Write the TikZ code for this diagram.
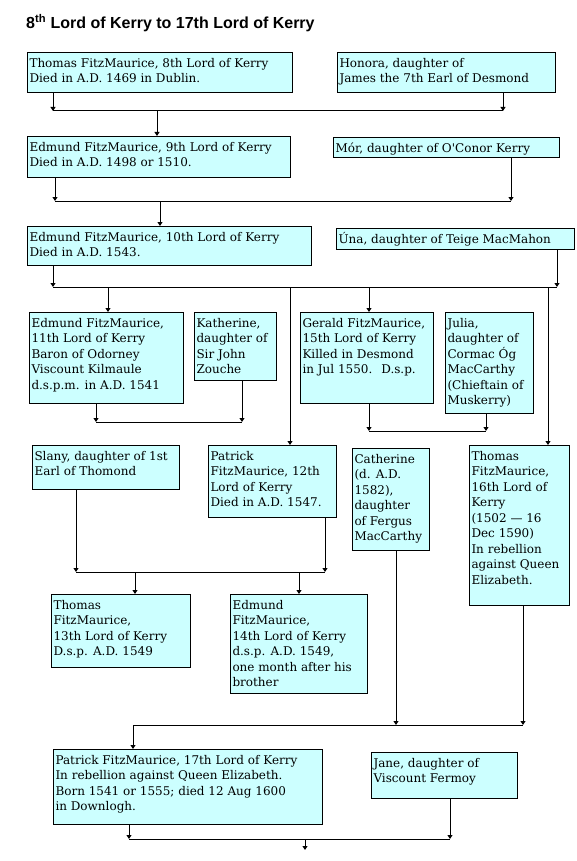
\documentclass[tikz,border=0pt]{standalone}
\usepackage{fontspec}
\setmainfont{DejaVu Serif}
\newfontfamily\headfont{Liberation Sans}
\usepackage{xcolor}
\definecolor{paleaqua}{rgb}{0.8, 1.0, 1.0}
\usepackage{tikz}
\usetikzlibrary{arrows.meta}
\tikzset{
  >={Triangle[length=4pt,width=5pt]},
  person/.style 2 args={rectangle,draw,line width=1pt,fill=paleaqua,anchor=north west,
    inner xsep=2pt,inner ysep=4pt,font=\fontsize{12}{15.5}\selectfont,
    execute at begin node={\begin{minipage}[t][#2][t]{#1}\raggedright\strut},
    execute at end node={\end{minipage}}},
  link/.style={draw,line width=1pt},
  descent/.style={link,->}
}

\begin{document}
\begin{tikzpicture}[x=1pt,y=-1pt]
  \path[fill=white] (0,0) rectangle (576,861);
  \useasboundingbox (0,0) rectangle (576,861);
  \node[anchor=base west,inner sep=0pt,font=\headfont\bfseries\fontsize{16}{19}\selectfont] (title) at (26,29) {8\textsuperscript{th} Lord of Kerry to 17th Lord of Kerry};

  % People (placed by their top left corners)
  \node[person={261pt}{32pt}] (thomas8) at (27,52) {Thomas FitzMaurice, 8th Lord of Kerry\\Died in A.D. 1469 in Dublin.};
  \node[person={214pt}{32pt}] (honora) at (337,52) {Honora, daughter of\\James the 7th Earl of Desmond};
  \node[person={259pt}{33pt}] (edmund9) at (27,136) {Edmund FitzMaurice, 9th Lord of Kerry\\Died in A.D. 1498 or 1510.};
  \node[person={222pt}{12pt}] (mor) at (333,137) {Mór, daughter of O\textquotesingle Conor Kerry};
  \node[person={280pt}{31pt}] (edmund10) at (27,226) {Edmund FitzMaurice, 10th Lord of Kerry\\Died in A.D. 1543.};
  \node[person={234pt}{13pt}] (una) at (336,228) {Úna, daughter of Teige MacMahon};
  \node[person={150pt}{83pt}] (edmund11) at (29,312) {Edmund FitzMaurice,\\11th Lord of Kerry\\Baron of Odorney\\Viscount Kilmaule\\d.s.p.m. in A.D. 1541};
  \node[person={78pt}{60pt}] (katherine) at (194,312) {Katherine,\\daughter of\\Sir John\\Zouche};
  \node[person={129pt}{83pt}] (gerald15) at (300,312) {Gerald FitzMaurice,\\15th Lord of Kerry\\Killed in Desmond\\in Jul 1550.~ D.s.p.};
  \node[person={84pt}{93pt}] (julia) at (445,312) {Julia,\\daughter of\\Cormac Óg\\MacCarthy\\(Chieftain of\\Muskerry)};
  \node[person={143pt}{36pt}] (slany) at (32,445) {Slany, daughter of 1st\\Earl of Thomond};
  \node[person={124pt}{64pt}] (patrick12) at (208,445) {Patrick\\FitzMaurice, 12th\\Lord of Kerry\\Died in A.D. 1547.};
  \node[person={73pt}{94pt}] (catherine) at (352,448) {Catherine\\(d. A.D.\\1582),\\daughter\\of Fergus\\MacCarthy};
  \node[person={96pt}{152pt}] (thomas16) at (469,445) {Thomas\\FitzMaurice,\\16th Lord of\\Kerry\\(1502 — 16\\Dec 1590)\\In rebellion\\against Queen\\Elizabeth.};
  \node[person={135pt}{65pt}] (thomas13) at (51,594) {Thomas\\FitzMaurice,\\13th Lord of Kerry\\D.s.p. A.D. 1549};
  \node[person={133pt}{91pt}] (edmund14) at (230,594) {Edmund\\FitzMaurice,\\14th Lord of Kerry\\d.s.p. A.D. 1549,\\one month after his\\brother};
  \node[person={265pt}{67pt}] (patrick17) at (53,749) {Patrick FitzMaurice, 17th Lord of Kerry\\In rebellion against Queen Elizabeth.\\Born 1541 or 1555; died 12 Aug 1600\\in Downlogh.};
  \node[person={142pt}{38pt}] (jane) at (371,752) {Jane, daughter of\\Viscount Fermoy};

  % Marriage lines
  \coordinate (m8l) at (53,111);
  \coordinate (m8r) at (503,111);
  \coordinate (m8d) at (157,111);
  \coordinate (m9l) at (55,201);
  \coordinate (m9r) at (511,201);
  \coordinate (m9d) at (160,201);
  \coordinate (m10l) at (53,287);
  \coordinate (m10r) at (557,287);
  \coordinate (m10a) at (108,287);
  \coordinate (m10b) at (290,287);
  \coordinate (m10c) at (369,287);
  \coordinate (m10e) at (548,287);
  \coordinate (m11l) at (96,422);
  \coordinate (m11r) at (242,422);
  \coordinate (m15l) at (369,431);
  \coordinate (m15r) at (486,431);
  \coordinate (m12l) at (76,572);
  \coordinate (m12r) at (325,572);
  \coordinate (m12a) at (135,572);
  \coordinate (m12b) at (299,572);
  \coordinate (m16l) at (133,725);
  \coordinate (m16m) at (396,725);
  \coordinate (m16r) at (523,725);
  \coordinate (m17l) at (129,839);
  \coordinate (m17r) at (450,839);
  \coordinate (m17d) at (305,839);
  \coordinate (heir) at (305,850);

  % Spouses down to the marriage lines
  \draw[descent] (thomas8.south -| m8l) -- (m8l);
  \draw[descent] (honora.south -| m8r) -- (m8r);
  \draw[descent] (edmund9.south -| m9l) -- (m9l);
  \draw[descent] (mor.south -| m9r) -- (m9r);
  \draw[descent] (edmund10.south -| m10l) -- (m10l);
  \draw[descent] (una.south -| m10r) -- (m10r);
  \draw[descent] (edmund11.south -| m11l) -- (m11l);
  \draw[descent] (katherine.south -| m11r) -- (m11r);
  \draw[descent] (gerald15.south -| m15l) -- (m15l);
  \draw[descent] (julia.south -| m15r) -- (m15r);
  \draw[descent] (slany.south -| m12l) -- (m12l);
  \draw[descent] (patrick12.south -| m12r) -- (m12r);
  \draw[descent] (catherine.south -| m16m) -- (m16m);
  \draw[descent] (thomas16.south -| m16r) -- (m16r);
  \draw[descent] (patrick17.south -| m17l) -- (m17l);
  \draw[descent] (jane.south -| m17r) -- (m17r);

  \draw[link] (m8l) -- (m8r);
  \draw[link] (m9l) -- (m9r);
  \draw[link] (m10l) -- (m10r);
  \draw[link] (m11l) -- (m11r);
  \draw[link] (m15l) -- (m15r);
  \draw[link] (m12l) -- (m12r);
  \draw[link] (m16l) -- (m16r);
  \draw[link] (m17l) -- (m17r);

  % Children
  \draw[descent] (m8d) -- (edmund9.north -| m8d);
  \draw[descent] (m9d) -- (edmund10.north -| m9d);
  \draw[descent] (m10a) -- (edmund11.north -| m10a);
  \draw[descent] (m10b) -- (patrick12.north -| m10b);
  \draw[descent] (m10c) -- (gerald15.north -| m10c);
  \draw[descent] (m10e) -- (thomas16.north -| m10e);
  \draw[descent] (m12a) -- (thomas13.north -| m12a);
  \draw[descent] (m12b) -- (edmund14.north -| m12b);
  \draw[descent] (m16l) -- (patrick17.north -| m16l);
  \draw[descent] (m17d) -- (heir);
\end{tikzpicture}
\end{document}
